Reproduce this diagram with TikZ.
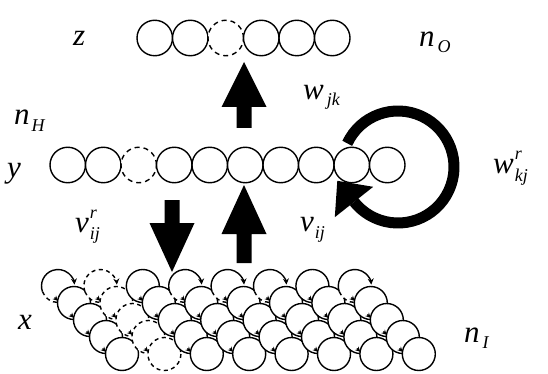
\documentclass[tikz,border=0pt]{standalone}
\usepackage{fontspec}
\setmainfont{Liberation Serif}
\usetikzlibrary{arrows.meta,calc}
\newcommand{\mfnt}{\fontsize{31}{31}\selectfont\itshape}
\newcommand{\subfnt}{\fontsize{18}{18}\selectfont\itshape}
\begin{document}
\begin{tikzpicture}[x=1pt,y=-1pt,
  ring/.style={line width=1.4pt},
  unit/.style={circle,draw,line width=1.4pt,minimum size=35.5pt,inner sep=0pt,fill=white},
  dunit/.style={unit,dash pattern=on 5pt off 4pt},
  inunit/.style={circle,minimum size=33pt,inner sep=0pt,fill=white},
  lab/.style={anchor=base west,inner sep=0pt,font=\mfnt},
  tinyarrow/.style={line width=1.2pt,-{Stealth[length=5pt,width=5pt]}}]
\useasboundingbox (0,0) rectangle (548,374);

% labels
\node[lab] (lz) at (73,46) {z};
\node[lab] (lnO) at (419,47) {n\hspace{3pt}\raisebox{-6pt}{\subfnt O}};
\node[lab] (lwjk) at (303,100) {w\hspace{3pt}\raisebox{-6pt}{\subfnt jk}};
\node[lab] (lnH) at (14,125) {n\hspace{2pt}\raisebox{-6pt}{\subfnt H}};
\node[lab] (ly) at (7,178) {y};
\node[lab] (lwr) at (493,174) {w\hspace{1pt}\rlap{\raisebox{14pt}{\subfnt r}}\raisebox{-7pt}{\subfnt kj}};
\node[lab] (lvij) at (300,231) {v\hspace{1pt}\raisebox{-7pt}{\subfnt ij}};
\node[lab] (lvr) at (75,232) {v\hspace{1pt}\rlap{\raisebox{14pt}{\subfnt r}}\raisebox{-7pt}{\subfnt ij}};
\node[lab] (lx) at (18,329) {x};
\node[lab] (lnI) at (464,342) {n\hspace{3pt}\raisebox{-6pt}{\subfnt I}};

% output layer
\foreach \i/\s in {0/unit,1/unit,2/dunit,3/unit,4/unit,5/unit}
  \node[\s] (o\i) at (154.75+35.5*\i,38) {};

% recurrent loop on hidden layer
\coordinate (lc) at (398,167);
\draw[line width=11pt] ([shift={(-155:56)}]lc) arc[start angle=-155,end angle=141.6,radius=56];

% hidden layer
\foreach \i/\s in {0/unit,1/unit,2/dunit,3/unit,4/unit,5/unit,6/unit,7/unit,8/unit,9/unit}
  \node[\s] (h\i) at (67.75+35.5*\i,165) {};

\fill (337.3,180.8) -- (373.2,186.8) -- (334.8,217.2) -- cycle;

% block arrows between layers
\fill (244,62) -- (266.5,107) -- (251.5,107) -- (251.5,128) -- (236.5,128) -- (236.5,107) -- (221.5,107) -- cycle;
\fill (244,185) -- (266.5,234) -- (251.5,234) -- (251.5,263) -- (236.5,263) -- (236.5,234) -- (221.5,234) -- cycle;
\fill (172,272) -- (194.5,223) -- (179.5,223) -- (179.5,200) -- (164.5,200) -- (164.5,223) -- (149.5,223) -- cycle;

% input layer
\foreach \k/\t in {0/1,1/2,2/0,3/1,4/1,5/1,6/0,7/1}{
  \foreach \i in {0,...,4}{
    \pgfmathsetmacro\cx{58+42.4*\k+16*\i}
    \pgfmathsetmacro\cy{286+17*\i}
    \node[inunit] (in\k\i) at (\cx,\cy) {};
    \ifnum\t=2 \tikzset{cur/.style={dash pattern=on 4pt off 3.5pt}}\else\tikzset{cur/.style={}}\fi
    \ifnum\i=0
      \ifnum\t>0
        \draw[ring,cur,-{Stealth[length=6pt,width=6pt]}] ([shift={(-200:16.5)}]in\k\i.center) arc[start angle=-200,end angle=-5,radius=16.5];
        \draw[ring,dash pattern=on 4pt off 3.5pt] ([shift={(-200:16.5)}]in\k\i.center) arc[start angle=-200,end angle=-270,radius=16.5];
      \else
        \draw[ring,cur] (in\k\i.center) circle[radius=16.5];
      \fi
    \else
      \draw[ring,cur] (in\k\i.center) circle[radius=16.5];
      \draw[tinyarrow] ($(in\k\i.center)+(-19.5,-5.5)$) -- ($(in\k\i.center)+(-16.2,-2.2)$);
    \fi
  }
}
\end{tikzpicture}
\end{document}
